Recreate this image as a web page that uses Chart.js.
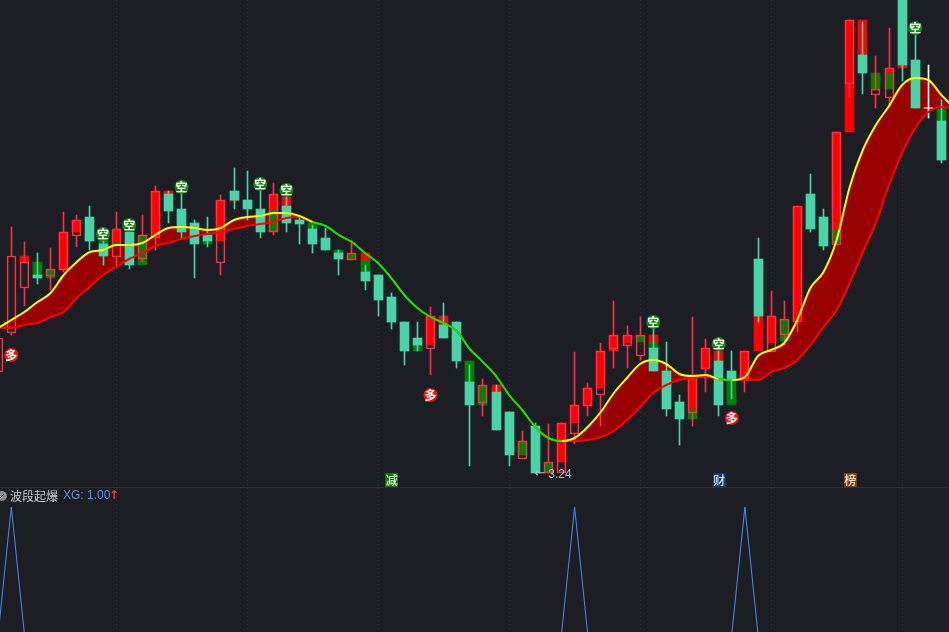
<!DOCTYPE html>
<html>
<head>
<meta charset="utf-8">
<title>波段起爆</title>
<script src="https://cdn.jsdelivr.net/npm/chart.js@4"></script>
<style>
html, body { margin: 0; padding: 0; background: #1c1e23; overflow: hidden; }
canvas { display: block; }
</style>
</head>
<body>
<canvas id="kline" width="949" height="632"></canvas>
<script>
// u = up candle (hollow), d = down candle (teal), w = white doji
var candleKinds = 'uuuduuuddu' + 'duuddddudd' + 'dudddddudd' + 'dddudddudd' + 'uduuuuuuuu' +
	'ddduuddudu' + 'uudduuduud' + 'dwd';

var wickHigh = [
	4.67, 5.70, 5.55, 5.44, 5.49, 5.85, 5.82, 5.91, 5.63, 5.85,
	5.70, 5.82, 6.11, 6.06, 6.07, 5.77, 5.80, 6.02, 6.29, 6.26,
	6.07, 6.14, 6.02, 5.79, 5.72, 5.69, 5.47, 5.57, 5.32, 5.22,
	5.04, 4.75, 4.75, 4.90, 4.94, 4.75, 4.32, 4.18, 4.12, 3.85,
	3.66, 3.74, 3.73, 3.74, 4.45, 4.14, 4.54, 4.96, 4.71, 4.80,
	4.72, 4.55, 4.02, 4.80, 4.58, 4.49, 4.46, 4.46, 5.59, 5.06,
	4.96, 5.91, 6.23, 5.88, 6.65, 7.77, 7.75, 7.41, 7.69, 8.07,
	7.62, 7.32, 6.97
];
var bodyHigh = [
	4.59, 5.41, 5.35, 5.22, 5.28, 5.65, 5.77, 5.80, 5.53, 5.68,
	5.65, 5.62, 6.06, 6.03, 5.88, 5.74, 5.62, 5.97, 6.06, 5.97,
	5.88, 6.03, 5.91, 5.77, 5.68, 5.59, 5.44, 5.44, 5.25, 5.22,
	5.00, 4.75, 4.59, 4.81, 4.72, 4.75, 4.15, 4.12, 4.05, 3.85,
	3.56, 3.71, 3.35, 3.74, 3.92, 4.09, 4.46, 4.62, 4.62, 4.62,
	4.49, 4.26, 3.95, 4.20, 4.49, 4.36, 4.26, 4.46, 5.38, 4.81,
	4.78, 5.91, 6.03, 5.80, 6.65, 7.77, 7.42, 7.08, 7.29, 8.07,
	7.37, 6.89, 6.76
];
var bodyLow = [
	4.25, 4.64, 5.09, 5.19, 5.21, 5.27, 5.61, 5.56, 5.41, 5.40,
	5.32, 5.38, 5.59, 5.86, 5.65, 5.53, 5.56, 5.34, 5.97, 5.88,
	5.65, 5.65, 5.74, 5.73, 5.53, 5.47, 5.38, 5.37, 5.16, 4.97,
	4.75, 4.46, 4.52, 4.48, 4.59, 4.36, 3.92, 3.94, 3.67, 3.42,
	3.38, 3.24, 3.24, 3.24, 3.63, 3.91, 4.02, 4.48, 4.51, 4.41,
	4.26, 3.88, 3.78, 3.84, 4.28, 3.92, 4.18, 4.18, 4.81, 4.45,
	4.62, 4.75, 5.68, 5.51, 5.52, 7.13, 7.24, 7.02, 6.99, 7.32,
	6.89, 6.89, 6.37
];
var wickLow = [
	4.21, 4.62, 4.91, 5.13, 5.07, 5.25, 5.50, 5.47, 5.32, 5.30,
	5.28, 5.35, 5.47, 5.74, 5.59, 5.19, 5.50, 5.22, 5.88, 5.77,
	5.59, 5.62, 5.65, 5.53, 5.44, 5.47, 5.22, 5.37, 5.07, 4.81,
	4.68, 4.32, 4.46, 4.22, 4.59, 4.29, 3.31, 3.81, 3.67, 3.31,
	3.38, 3.24, 3.24, 3.24, 3.53, 3.81, 3.71, 4.29, 4.29, 4.37,
	4.26, 3.81, 3.52, 3.71, 4.05, 3.81, 3.98, 4.05, 4.75, 4.45,
	4.52, 4.65, 5.65, 5.47, 5.52, 7.00, 7.03, 6.89, 6.90, 7.16,
	6.89, 6.79, 6.34
];

// solid bars behind the candles: [candle, high, low]
var redBars = [
	[2, 5.41, 5.35], [5, 5.65, 5.27], [6, 5.77, 5.65], [9, 5.68, 5.55], [12, 6.06, 5.59],
	[13, 6.06, 6.03], [17, 5.97, 5.56], [18, 5.97, 5.96], [21, 6.03, 5.87], [22, 6.00, 5.91],
	[28, 5.44, 5.37], [33, 4.81, 4.52], [34, 4.81, 4.72], [38, 4.12, 4.05], [43, 3.74, 3.35],
	[44, 3.92, 3.74], [45, 4.09, 3.91], [46, 4.46, 4.09], [47, 4.62, 4.46], [48, 4.62, 4.54],
	[50, 4.62, 4.55], [53, 4.20, 3.88], [54, 4.49, 4.28], [55, 4.46, 4.36], [57, 4.46, 4.18],
	[58, 4.81, 4.46], [59, 4.81, 4.54], [61, 5.91, 4.75], [64, 6.65, 5.68], [65, 7.77, 6.65],
	[66, 7.77, 7.42], [68, 7.29, 7.24], [69, 7.32, 7.29]
];
var greenBars = [
	[3, 5.35, 5.22], [4, 5.28, 5.19], [8, 5.57, 5.53], [9, 5.55, 5.52], [11, 5.62, 5.32],
	[16, 5.56, 5.53], [21, 5.87, 5.65], [24, 5.74, 5.68], [26, 5.47, 5.44], [27, 5.44, 5.37],
	[28, 5.37, 5.25], [32, 4.52, 4.46], [36, 4.36, 4.15], [37, 4.12, 3.92], [40, 3.56, 3.42],
	[42, 3.35, 3.24], [49, 4.62, 4.55], [50, 4.55, 4.49], [53, 3.88, 3.78], [56, 4.18, 3.92],
	[60, 4.78, 4.56], [64, 5.68, 5.54], [67, 7.24, 7.08], [68, 7.24, 7.08], [72, 6.88, 6.76]
];

var bandUpper = [
	4.69, 4.77, 4.85, 4.95, 5.04, 5.22, 5.35, 5.45, 5.47, 5.52,
	5.52, 5.54, 5.62, 5.69, 5.70, 5.69, 5.67, 5.69, 5.77, 5.80,
	5.81, 5.84, 5.84, 5.81, 5.75, 5.71, 5.62, 5.55, 5.44, 5.34,
	5.19, 5.02, 4.89, 4.80, 4.74, 4.66, 4.48, 4.35, 4.21, 4.02,
	3.87, 3.70, 3.59, 3.56, 3.59, 3.70, 3.85, 4.04, 4.19, 4.33,
	4.37, 4.33, 4.23, 4.21, 4.22, 4.18, 4.17, 4.20, 4.41, 4.47,
	4.54, 4.77, 5.09, 5.25, 5.57, 6.10, 6.47, 6.72, 6.91, 7.12,
	7.19, 7.17, 7.02, 6.89
];
var bandLower = [
	4.69, 4.69, 4.72, 4.74, 4.80, 4.85, 4.99, 5.10, 5.22, 5.30,
	5.38, 5.44, 5.51, 5.54, 5.58, 5.61, 5.63, 5.65, 5.68, 5.71,
	5.73, 5.75, 5.79, 5.80, 5.75, 5.71, 5.62, 5.55, 5.44, 5.34,
	5.19, 5.02, 4.89, 4.80, 4.74, 4.66, 4.48, 4.35, 4.21, 4.02,
	3.87, 3.70, 3.59, 3.56, 3.56, 3.57, 3.60, 3.66, 3.77, 3.90,
	4.04, 4.12, 4.17, 4.19, 4.20, 4.18, 4.17, 4.17, 4.17, 4.25,
	4.29, 4.37, 4.52, 4.70, 4.87, 5.14, 5.45, 5.74, 6.12, 6.44,
	6.69, 6.85, 6.90, 6.88
];
// stretches where the upper line turns green: [from candle, to candle]
var bearSpans = [[24, 43], [55, 56]];

var shortIdx = [8, 10, 14, 20, 22, 50, 55, 70];
var shortPrice = [5.63, 5.72, 6.10, 6.13, 6.07, 4.75, 4.53, 7.69];
var longIdx = [1, 33, 56];
var longPrice = [4.42, 4.02, 3.79];

var newsIdx = [30, 55, 65];
var newsText = ['减', '财', '榜'];
var newsColor = ['#0b7a0b', '#0b3c6e', '#7d4208'];
var newsPrice = 3.17;

var lowIdx = 41;
var lowPrice = 3.24;

var xgPeaks = [1, 44, 57];
var gridIdx = [9, 19, 29, 39, 49, 59, 69];

var paneName = '波段起爆';
var paneValue = 'XG: 1.00';
var paneArrow = '↑';

var FONT = '"Noto Sans CJK SC", "DejaVu Sans", sans-serif';

function pts(kind, hi, lo) {
	var out = [];
	for (var i = 0; i < hi.length; i++) {
		if (kind.indexOf(candleKinds[i]) >= 0) out.push({ x: i, y: [lo[i], hi[i]] });
	}
	return out;
}

function barPts(list) {
	var out = [];
	for (var i = 0; i < list.length; i++) {
		out.push({ x: list[i][0], y: [list[i][2], list[i][1]] });
	}
	return out;
}

function linePts(vals) {
	var out = [];
	for (var i = 0; i < vals.length; i++) out.push({ x: i, y: vals[i] });
	return out;
}

function markerPts(idx, price) {
	var out = [];
	for (var i = 0; i < idx.length; i++) out.push({ x: idx[i], y: price[i] });
	return out;
}

var xgValues = [];
for (var n = 0; n < bandUpper.length; n++) xgValues.push(xgPeaks.indexOf(n) >= 0 ? 1 : 0);

function isBear(i) {
	for (var s = 0; s < bearSpans.length; s++) {
		if (i >= bearSpans[s][0] && i < bearSpans[s][1]) return true;
	}
	return false;
}

function barSet(data, order, thick, fillCol, edgeCol) {
	return {
		type: 'bar',
		data: data,
		order: order,
		grouped: false,
		barThickness: thick,
		backgroundColor: fillCol,
		borderColor: edgeCol || fillCol,
		borderWidth: edgeCol ? 1 : 0,
		borderSkipped: false,
		yAxisID: 'y'
	};
}

var UP = '#ff3048';
var TEAL = '#4ad2a8';

// pin bars to whole pixels, the original is not antialiased
var snapBars = {
	id: 'snapBars',
	afterDatasetsUpdate: function (chart) {
		chart.getSortedVisibleDatasetMetas().forEach(function (meta) {
			if (meta.type !== 'bar') return;
			meta.data.forEach(function (el) {
				el.x = Math.floor(el.x) + 0.5;
				el.y = Math.round(el.y);
				el.base = Math.round(el.base);
			});
		});
	}
};

var overlayText = {
	id: 'overlayText',
	afterDatasetsDraw: function (chart) {
		var ctx = chart.ctx;
		var x = chart.scales.x;
		var y = chart.scales.y;
		var i;
		ctx.save();
		ctx.textAlign = 'center';
		ctx.textBaseline = 'middle';

		ctx.font = 'bold 12px ' + FONT;
		ctx.fillStyle = '#ffffff';
		for (i = 0; i < shortIdx.length; i++) {
			ctx.fillText('空', x.getPixelForValue(shortIdx[i]), y.getPixelForValue(shortPrice[i]));
		}
		for (i = 0; i < longIdx.length; i++) {
			ctx.fillText('多', x.getPixelForValue(longIdx[i]), y.getPixelForValue(longPrice[i]));
		}

		ctx.font = '12px ' + FONT;
		for (i = 0; i < newsIdx.length; i++) {
			var nx = x.getPixelForValue(newsIdx[i]);
			var ny = y.getPixelForValue(newsPrice);
			ctx.fillStyle = newsColor[i];
			ctx.fillRect(Math.round(nx) - 6, Math.round(ny) - 7, 13, 14);
			ctx.fillStyle = '#ffffff';
			ctx.fillText(newsText[i], nx + 0.5, ny);
		}

		// lowest price flag
		ctx.textAlign = 'left';
		ctx.fillStyle = '#b4bbce';
		ctx.font = '13px "DejaVu Sans", sans-serif';
		ctx.fillText('←', x.getPixelForValue(lowIdx) - 1, y.getPixelForValue(lowPrice) + 1);
		ctx.font = '12px "Liberation Sans", sans-serif';
		ctx.fillText(String(lowPrice), x.getPixelForValue(lowIdx) + 13, y.getPixelForValue(lowPrice) + 2);

		// sub pane header
		ctx.fillStyle = '#8a8c90';
		ctx.beginPath();
		ctx.arc(2, 496, 5, 0, Math.PI * 2);
		ctx.fill();
		ctx.strokeStyle = '#1c1e23';
		ctx.beginPath();
		ctx.moveTo(0, 498);
		ctx.lineTo(4, 494);
		ctx.stroke();

		ctx.font = '12px ' + FONT;
		ctx.fillStyle = '#c6cad2';
		ctx.fillText(paneName, 10, 496);
		ctx.font = '12px "Liberation Sans", sans-serif';
		ctx.fillStyle = '#5b90f0';
		ctx.fillText(paneValue, 63, 496);
		ctx.font = 'bold 12px "DejaVu Sans", sans-serif';
		ctx.fillStyle = UP;
		ctx.fillText(paneArrow, 109, 496);
		ctx.restore();
	}
};

var ctx = document.getElementById('kline').getContext('2d');
var chart = new Chart(ctx, {
	data: {
		datasets: [
			{
				type: 'line', data: linePts(bandUpper), order: 20, yAxisID: 'y',
				borderWidth: 0, borderColor: 'rgba(0,0,0,0)', pointRadius: 0,
				cubicInterpolationMode: 'monotone',
				fill: { target: 1, above: '#990000', below: 'rgba(0,0,0,0)' }
			},
			{
				type: 'line', data: linePts(bandLower), order: 3, yAxisID: 'y',
				borderWidth: 2, borderColor: '#ff0000', pointRadius: 0,
				cubicInterpolationMode: 'monotone', fill: false
			},
			{
				type: 'line', data: linePts(bandUpper), order: 2, yAxisID: 'y',
				borderWidth: 2, borderColor: '#ffff00', pointRadius: 0,
				cubicInterpolationMode: 'monotone', fill: false,
				segment: {
					borderColor: function (c) { return isBear(c.p0DataIndex) ? '#00ee00' : '#ffff00'; }
				}
			},
			barSet(barPts(redBars), 10, 9, '#ff0000'),
			barSet(barPts(greenBars), 10, 9, '#008000'),
			// hollow candles: wick stops at the body
			barSet(pts('u', wickHigh, bodyHigh), 8, 1, UP),
			barSet(pts('u', bodyLow, wickLow), 8, 1, UP),
			barSet(pts('d', wickHigh, wickLow), 8, 1, TEAL),
			barSet(pts('w', wickHigh, wickLow), 8, 1, '#ffffff'),
			barSet(pts('u', bodyHigh, bodyLow), 6, 9, 'rgba(0,0,0,0)', UP),
			barSet(pts('d', bodyHigh, bodyLow), 6, 9, TEAL),
			{
				type: 'scatter', data: pts('w', bodyHigh, bodyLow).map(function (p) { return { x: p.x, y: p.y[0] }; }),
				order: 1, yAxisID: 'y', pointStyle: 'line', pointRadius: 4.5,
				borderColor: '#ffffff', borderWidth: 1, showLine: false
			},
			{
				type: 'scatter', data: markerPts(shortIdx, shortPrice), order: 1, yAxisID: 'y',
				pointStyle: 'circle', pointRadius: 7, backgroundColor: '#0a8c0e', borderWidth: 0, showLine: false
			},
			{
				type: 'scatter', data: markerPts(longIdx, longPrice), order: 1, yAxisID: 'y',
				pointStyle: 'circle', pointRadius: 7, backgroundColor: '#ea1212', borderWidth: 0, showLine: false
			},
			{
				type: 'line', data: linePts(xgValues), order: 4, yAxisID: 'yXg',
				borderWidth: 1, borderColor: '#4f8cf2', pointRadius: 0, tension: 0, fill: false
			}
		]
	},
	options: {
		responsive: false,
		animation: false,
		events: [],
		layout: { padding: 0, autoPadding: false },
		plugins: { legend: { display: false }, tooltip: { enabled: false } },
		scales: {
			x: {
				type: 'linear',
				offset: false,
				min: 0.137,
				max: 72.58,
				afterBuildTicks: function (axis) {
					axis.ticks = gridIdx.map(function (v) { return { value: v }; });
				},
				ticks: { display: false },
				border: { display: false, dash: [1, 3] },
				grid: { color: '#34373d', lineWidth: 1, drawTicks: false, offset: false }
			},
			y: {
				min: 1.65,
				max: 7.97,
				afterBuildTicks: function (axis) {
					axis.ticks = [{ value: 3.10 }];
				},
				ticks: { display: false },
				border: { display: false },
				grid: { color: '#2c2e33', lineWidth: 1, drawTicks: false }
			},
			yXg: { display: false, min: 0.016, max: 4.992 }
		}
	},
	plugins: [snapBars, overlayText]
});
</script>
</body>
</html>
